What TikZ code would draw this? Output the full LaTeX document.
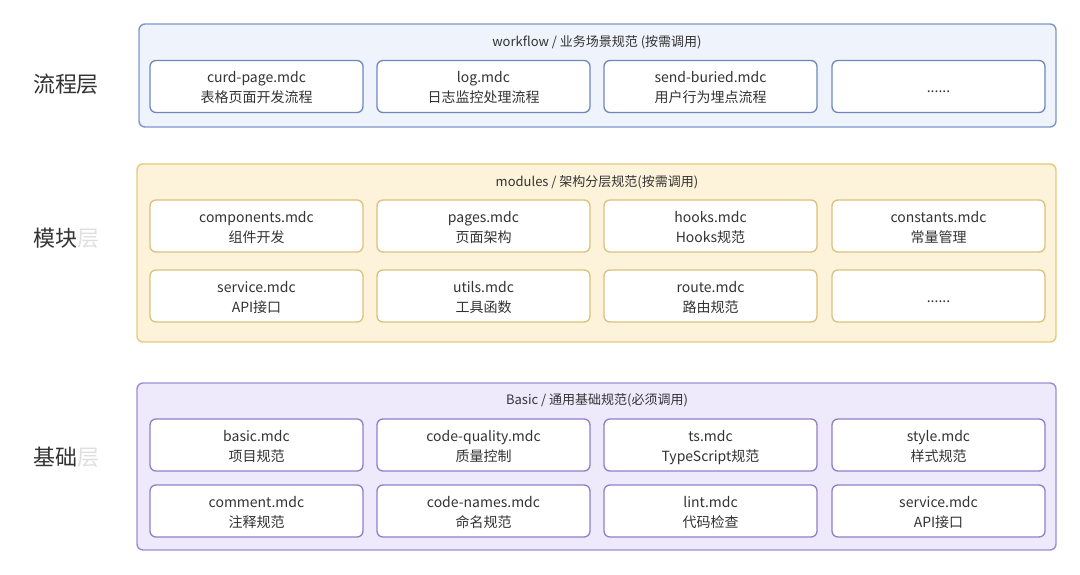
\documentclass[tikz,border=0pt]{standalone}
\usepackage{fontspec}
\setmainfont{Noto Sans CJK SC}
\definecolor{txt}{HTML}{333333}
\definecolor{bfill}{HTML}{EEF3FC}
\definecolor{bdraw}{HTML}{7C97CC}
\definecolor{bin}{HTML}{6E88BC}
\definecolor{yfill}{HTML}{FDF3DA}
\definecolor{ydraw}{HTML}{E8C97C}
\definecolor{yin}{HTML}{DCC17A}
\definecolor{pfill}{HTML}{EEEAFB}
\definecolor{pdraw}{HTML}{9D8DD8}
\definecolor{pin}{HTML}{8F7FC9}
\newcommand{\topstrut}{\rule{0pt}{19pt}}
\newcommand{\two}[2]{\topstrut #1\\\strut #2}
\newcommand{\one}[1]{\topstrut\strut #1}
\tikzset{
  container/.style={draw=#1, line width=1.4pt, rounded corners=6pt},
  cell/.style={draw=#1, fill=white, line width=1.3pt, rounded corners=6pt, minimum width=213pt, minimum height=52pt, align=center, text=txt, font=\fontsize{14}{20}\selectfont, inner sep=0pt},
  ctitle/.style={text=txt, font=\fontsize{13}{16}\selectfont},
  layerlabel/.style={text=txt, font=\fontsize{22}{26}\selectfont, anchor=center}
}
\begin{document}
\begin{tikzpicture}[x=1pt,y=-1pt]
\useasboundingbox (0,0) rectangle (1080,575);
\fill[white] (0,0) rectangle (1080,575);
% layer labels
\node[layerlabel] (l1) at (66,84) {流程层};
\node[layerlabel] (l2) at (66,238) {模块\textcolor{gray!25}{层}};
\node[layerlabel] (l3) at (66,457) {基础\textcolor{gray!25}{层}};
% containers
\draw[container=bdraw, fill=bfill] (139,24) rectangle (1056,127);
\draw[container=ydraw, fill=yfill] (137,164) rectangle (1056,342);
\draw[container=pdraw, fill=pfill] (137,383) rectangle (1056,550);
\node[ctitle] (t1) at (597,42) {workflow / 业务场景规范 (按需调用)};
\node[ctitle] (t2) at (597,182) {modules / 架构分层规范(按需调用)};
\node[ctitle] (t3) at (597,400) {Basic / 通用基础规范(必须调用)};
% workflow row
\node[cell=bin] (w1) at (256.5,86.5) {\two{curd-page.mdc}{表格页面开发流程}};
\node[cell=bin] (w2) at (483.5,86.5) {\two{log.mdc}{日志监控处理流程}};
\node[cell=bin] (w3) at (710.5,86.5) {\two{send-buried.mdc}{用户行为埋点流程}};
\node[cell=bin] (w4) at (938.5,86.5) {\one{......}};
% modules rows
\node[cell=yin] (m1) at (256.5,226) {\two{components.mdc}{组件开发}};
\node[cell=yin] (m2) at (483.5,226) {\two{pages.mdc}{页面架构}};
\node[cell=yin] (m3) at (710.5,226) {\two{hooks.mdc}{Hooks规范}};
\node[cell=yin] (m4) at (938.5,226) {\two{constants.mdc}{常量管理}};
\node[cell=yin] (m5) at (256.5,296) {\two{service.mdc}{API接口}};
\node[cell=yin] (m6) at (483.5,296) {\two{utils.mdc}{工具函数}};
\node[cell=yin] (m7) at (710.5,296) {\two{route.mdc}{路由规范}};
\node[cell=yin] (m8) at (938.5,296) {\one{......}};
% basic rows
\node[cell=pin] (b1) at (256.5,445) {\two{basic.mdc}{项目规范}};
\node[cell=pin] (b2) at (483.5,445) {\two{code-quality.mdc}{质量控制}};
\node[cell=pin] (b3) at (710.5,445) {\two{ts.mdc}{TypeScript规范}};
\node[cell=pin] (b4) at (938.5,445) {\two{style.mdc}{样式规范}};
\node[cell=pin] (b5) at (256.5,511) {\two{comment.mdc}{注释规范}};
\node[cell=pin] (b6) at (483.5,511) {\two{code-names.mdc}{命名规范}};
\node[cell=pin] (b7) at (710.5,511) {\two{lint.mdc}{代码检查}};
\node[cell=pin] (b8) at (938.5,511) {\two{service.mdc}{API接口}};
\end{tikzpicture}
\end{document}
